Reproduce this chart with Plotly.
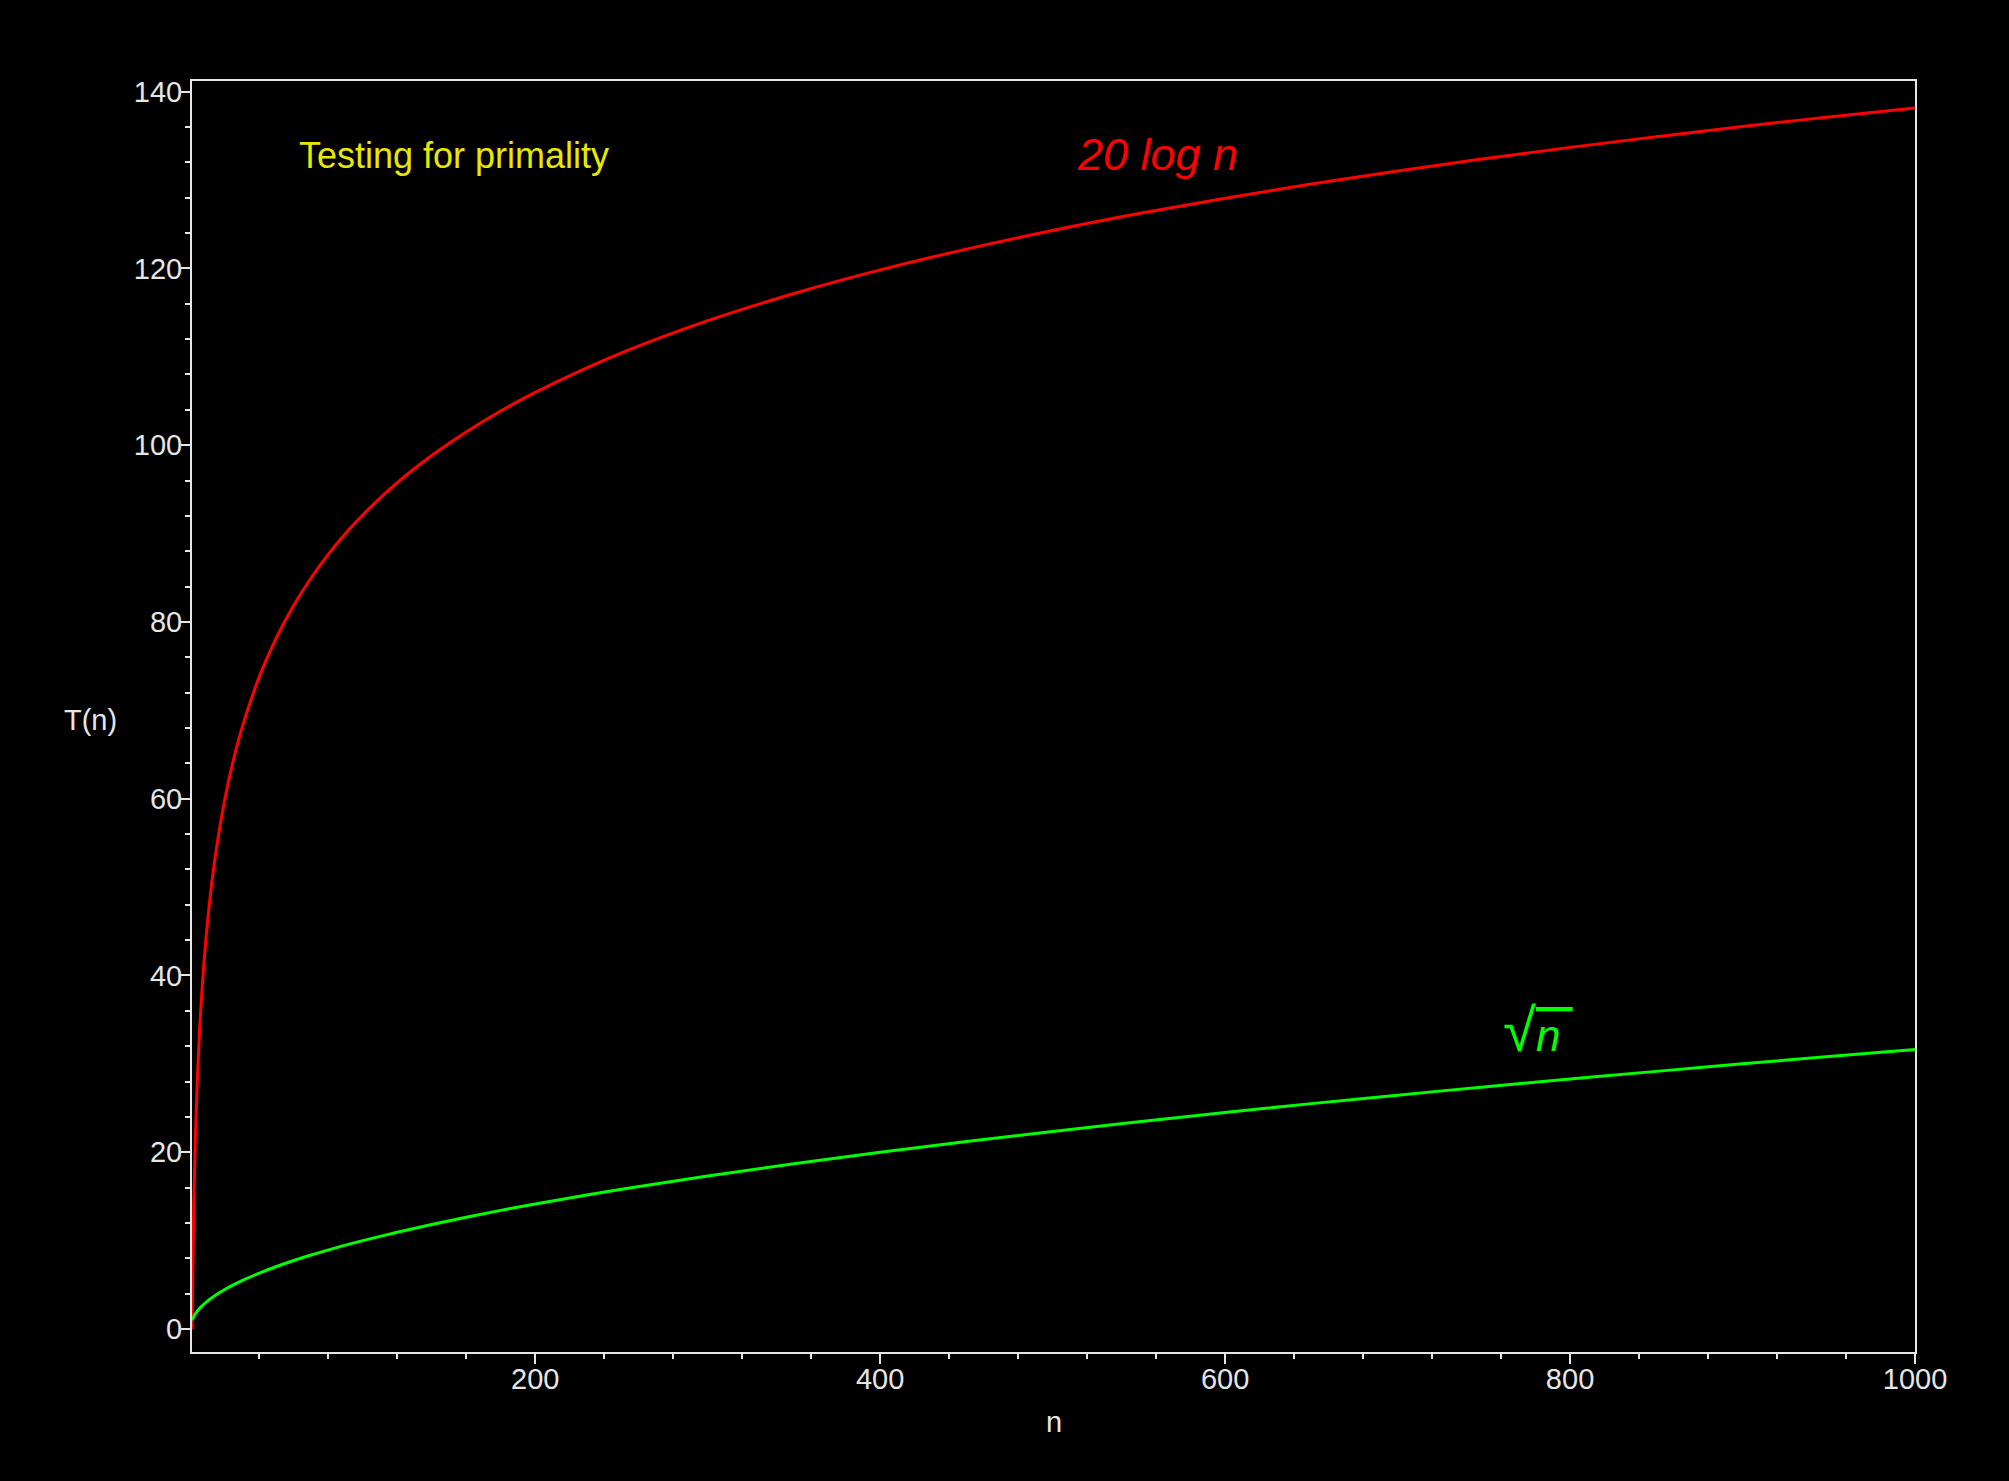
import plotly.graph_objects as go

# Values
n_vals = [1, 2, 3, 4, 5, 6, 8, 10, 12, 15, 20, 25, 30, 40, 50, 60, 70, 80, 90, 100,
          120, 140, 160, 180, 200, 250, 300, 350, 400, 450, 500, 550, 600, 650, 700,
          750, 800, 850, 900, 950, 1000]
log_vals = [0.0, 13.86, 21.97, 27.73, 32.19, 35.84, 41.59, 46.05, 49.70, 54.16, 59.91,
            64.38, 68.02, 73.78, 78.24, 81.89, 84.97, 87.64, 90.00, 92.10, 95.75, 98.83,
            101.50, 103.86, 105.97, 110.43, 114.08, 117.16, 119.83, 122.18, 124.29,
            126.20, 127.94, 129.54, 131.02, 132.40, 133.69, 134.90, 136.05, 137.13, 138.16]
sqrt_vals = [1.0, 1.41, 1.73, 2.0, 2.24, 2.45, 2.83, 3.16, 3.46, 3.87, 4.47, 5.0, 5.48,
             6.32, 7.07, 7.75, 8.37, 8.94, 9.49, 10.0, 10.95, 11.83, 12.65, 13.42, 14.14,
             15.81, 17.32, 18.71, 20.0, 21.21, 22.36, 23.45, 24.49, 25.50, 26.46, 27.39,
             28.28, 29.15, 30.0, 30.82, 31.62]

x_ticks = [200, 400, 600, 800, 1000]
y_ticks = [0, 20, 40, 60, 80, 100, 120, 140]

FONT = "Liberation Sans, Arial, sans-serif"
AXCOL = "#e6e6e6"

fig = go.Figure()
fig.add_trace(go.Scatter(x=n_vals, y=log_vals, mode="lines",
                         line=dict(color="#ff0000", width=3, shape="spline"),
                         showlegend=False, hoverinfo="skip"))
fig.add_trace(go.Scatter(x=n_vals, y=sqrt_vals, mode="lines",
                         line=dict(color="#00ff00", width=3, shape="spline"),
                         showlegend=False, hoverinfo="skip"))

fig.update_layout(
    width=2009, height=1481,
    margin=dict(l=192, r=94, t=81, b=129),
    paper_bgcolor="black", plot_bgcolor="black",
    font=dict(family=FONT, color=AXCOL, size=29),
    xaxis=dict(range=[1, 1000], tickvals=x_ticks, ticktext=[str(v) for v in x_ticks],
               showgrid=False, zeroline=False, showline=True, linecolor=AXCOL,
               linewidth=2, mirror=True, ticks="outside", ticklen=10, tickwidth=2,
               tickcolor=AXCOL, tickfont=dict(family=FONT, size=29, color=AXCOL),
               ticklabelstandoff=-10,
               minor=dict(ticks="outside", ticklen=5, tickwidth=2, tickcolor=AXCOL,
                          dtick=40, tick0=0, showgrid=False)),
    yaxis=dict(range=[-2.6, 141.2], tickvals=y_ticks, ticktext=[str(v) for v in y_ticks],
               showgrid=False, zeroline=False, showline=True, linecolor=AXCOL,
               linewidth=2, mirror=True, ticks="outside", ticklen=9, tickwidth=2,
               tickcolor=AXCOL, tickfont=dict(family=FONT, size=29, color=AXCOL),
               ticklabelstandoff=-7,
               minor=dict(ticks="outside", ticklen=5, tickwidth=2, tickcolor=AXCOL,
                          dtick=4, tick0=0, showgrid=False)),
    annotations=[
        dict(text="Testing for primality", x=62, y=132.8, xref="x", yref="y",
             xanchor="left", yanchor="middle", showarrow=False,
             font=dict(family=FONT, size=36, color="#e8e800")),
        dict(text="<i>20 log n</i>", x=513, y=132.9, xref="x", yref="y",
             xanchor="left", yanchor="middle", showarrow=False,
             font=dict(family=FONT, size=45, color="#ff0000")),
        dict(text="<span style=\"font-size:60px\">√</span>"
                  "<span style=\"text-decoration:overline\"><i>n </i></span>",
             x=760, y=33.8, xref="x", yref="y",
             xanchor="left", yanchor="middle", showarrow=False,
             font=dict(family=FONT, size=44, color="#00ff00")),
        dict(text="n", x=0.5, y=-0.055, xref="paper", yref="paper",
             xanchor="center", yanchor="middle", showarrow=False,
             font=dict(family=FONT, size=29, color=AXCOL)),
        dict(text="T(n)", x=-0.059, y=0.497, xref="paper", yref="paper",
             xanchor="center", yanchor="middle", showarrow=False,
             font=dict(family=FONT, size=29, color=AXCOL)),
    ],
)

fig.write_html("out.html")
